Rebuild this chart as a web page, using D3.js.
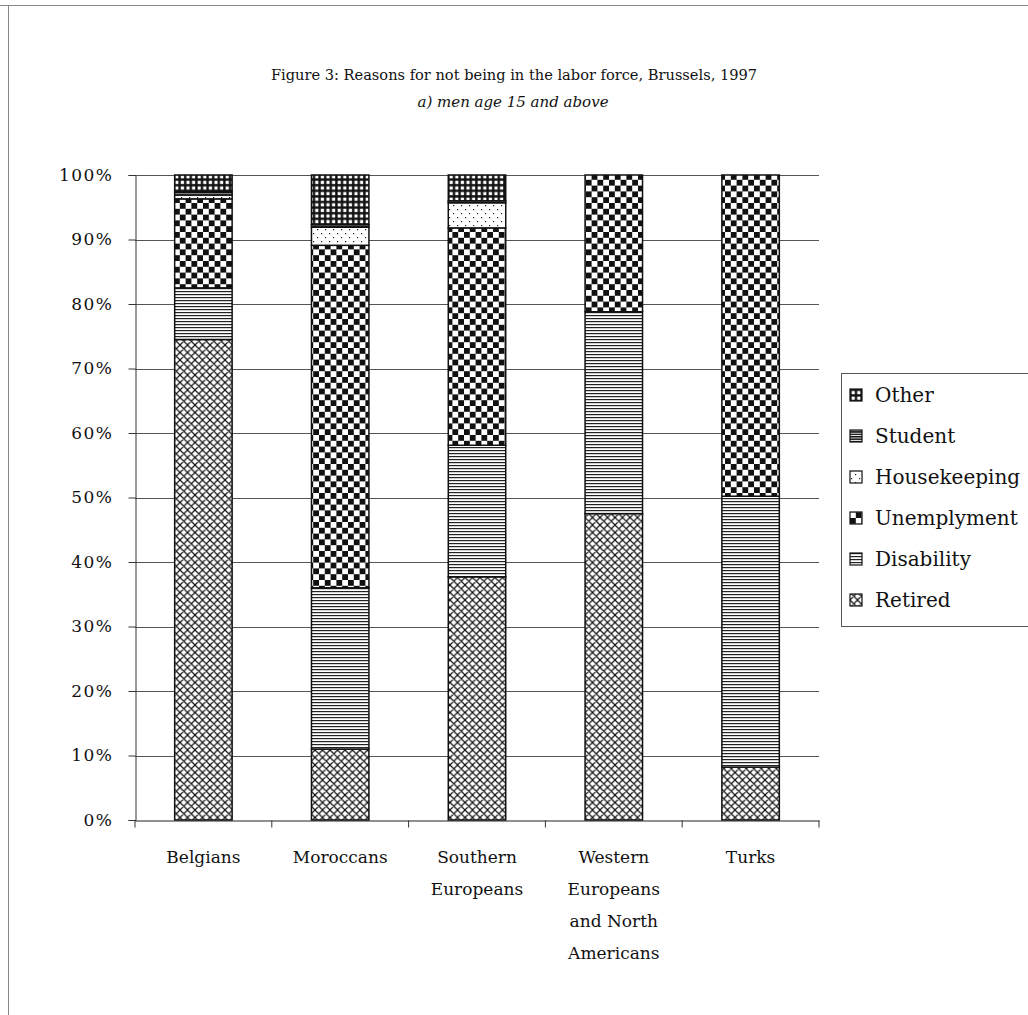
<!DOCTYPE html>
<html>
<head>
<meta charset="utf-8">
<script src="https://cdn.jsdelivr.net/npm/d3@7"></script>
<style>
  html, body { margin: 0; padding: 0; background: #fff; }
  svg { display: block; }
  text { font-family: "DejaVu Serif", serif; fill: #111; }
</style>
</head>
<body>
<svg id="chart" width="1028" height="1015"></svg>
<script>
// Population groups (x axis) and their wrapped label lines
const categories = ["Belgians", "Moroccans", "Southern Europeans",
  "Western Europeans and North Americans", "Turks"];
const categoryLines = [["Belgians"], ["Moroccans"], ["Southern", "Europeans"],
  ["Western", "Europeans", "and North", "Americans"], ["Turks"]];

// Reasons, stacked bottom to top (share of men not in labour force, %)
const reasons = ["Retired", "Disability", "Unemplyment", "Housekeeping", "Student", "Other"];
const retired      = [74.5, 11.0, 37.7, 47.5,  8.2];
const disability   = [ 8.0, 25.0, 20.4, 31.3, 42.0];
const unemployment = [13.8, 53.1, 33.7, 21.2, 49.8];
const housekeeping = [ 0.6,  2.8,  3.9,  0.0,  0.0];
const student      = [ 0.5,  0.4,  0.3,  0.0,  0.0];
const other        = [ 2.6,  7.7,  4.0,  0.0,  0.0];

const yTicks = [0, 10, 20, 30, 40, 50, 60, 70, 80, 90, 100];

const seriesValues = [retired, disability, unemployment, housekeeping, student, other];
const rows = categories.map((c, i) => {
  const r = { category: c };
  reasons.forEach((k, j) => r[k] = seriesValues[j][i]);
  return r;
});

const svg = d3.select("#chart");
const defs = svg.append("defs");

// ---- fill patterns for each reason ----
function pattern(id, w, h) {
  const p = defs.append("pattern").attr("id", id)
    .attr("patternUnits", "userSpaceOnUse").attr("width", w).attr("height", h);
  p.append("rect").attr("width", w).attr("height", h).attr("fill", "#fff");
  return p;
}
// Retired: diagonal cross-hatch
{
  const s = 7.5, p = pattern("p-Retired", s, s);
  p.append("path")
    .attr("d", `M0,0L${s},${s}M${-1},${s - 1}L1,${s + 1}M${s - 1},-1L${s + 1},1` +
               `M0,${s}L${s},0M-1,1L1,-1M${s - 1},${s + 1}L${s + 1},${s - 1}`)
    .attr("stroke", "#111").attr("stroke-width", 1.2);
}
// Disability: fine horizontal lines
{
  const p = pattern("p-Disability", 4, 3);
  p.append("rect").attr("y", 0).attr("width", 4).attr("height", 1.2).attr("fill", "#222");
}
// Unemployment: checkerboard
{
  const c = 5.8, p = pattern("p-Unemplyment", 2 * c, 2 * c);
  p.append("rect").attr("width", c).attr("height", c).attr("fill", "#111");
  p.append("rect").attr("x", c).attr("y", c).attr("width", c).attr("height", c).attr("fill", "#111");
}
// Housekeeping: sparse dots
{
  const p = pattern("p-Housekeeping", 8, 8);
  p.append("rect").attr("x", 1).attr("y", 1).attr("width", 1.2).attr("height", 1.2).attr("fill", "#222");
  p.append("rect").attr("x", 5).attr("y", 5).attr("width", 1.2).attr("height", 1.2).attr("fill", "#222");
}
// Student: dense dark horizontal lines
{
  const p = pattern("p-Student", 4, 2.4);
  p.append("rect").attr("width", 4).attr("height", 1.5).attr("fill", "#111");
}
// Other: black grid with small white squares
{
  const c = 5.6, p = pattern("p-Other", c, c);
  p.select("rect").attr("fill", "#111");
  p.append("rect").attr("x", 1.6).attr("y", 1.6).attr("width", 3.2).attr("height", 3.2).attr("fill", "#fff");
}

// ---- page frame ----
svg.append("line").attr("x1", 0).attr("x2", 1028).attr("y1", 5.5).attr("y2", 5.5)
  .attr("stroke", "#888").attr("stroke-width", 1);
svg.append("line").attr("x1", 8.5).attr("x2", 8.5).attr("y1", 5).attr("y2", 1015)
  .attr("stroke", "#888").attr("stroke-width", 1);

// ---- titles ----
svg.append("text").attr("x", 514).attr("y", 80).attr("text-anchor", "middle")
  .style("font-size", "14.6px")
  .text("Figure 3: Reasons for not being in the labor force, Brussels, 1997");
svg.append("text").attr("x", 513).attr("y", 107).attr("text-anchor", "middle")
  .style("font-size", "15px").style("font-style", "italic")
  .text("a) men age 15 and above");

// ---- scales ----
const plot = { left: 135, right: 819, top: 175, bottom: 820 };
const x = d3.scaleBand().domain(categories).range([plot.left, plot.right])
  .paddingInner(0.58).paddingOuter(0.29);
const y = d3.scaleLinear().domain([0, 100]).range([plot.bottom, plot.top]);

// gridlines
svg.append("g").selectAll("line").data(yTicks.filter(d => d > 0)).join("line")
  .attr("x1", plot.left).attr("x2", plot.right)
  .attr("y1", d => Math.round(y(d)) + 0.5).attr("y2", d => Math.round(y(d)) + 0.5)
  .attr("stroke", "#555").attr("stroke-width", 1);

// ---- stacked bars ----
const stack = d3.stack().keys(reasons)(rows);
const layers = svg.append("g").selectAll("g").data(stack).join("g")
  .attr("fill", d => `url(#p-${d.key})`);
layers.selectAll("rect").data(d => d.filter(s => s[1] - s[0] > 0)).join("rect")
  .attr("x", d => x(d.data.category))
  .attr("width", x.bandwidth())
  .attr("y", d => y(d[1]))
  .attr("height", d => y(d[0]) - y(d[1]))
  .attr("stroke", "#111").attr("stroke-width", 1.5);

// ---- y axis ----
const yAxis = svg.append("g").attr("transform", `translate(${plot.left + 0.5},0)`)
  .call(d3.axisLeft(y).tickValues(yTicks).tickFormat(d => d + "%").tickSize(7).tickPadding(15));
yAxis.select(".domain").attr("stroke", "#333");
yAxis.selectAll(".tick line").attr("stroke", "#333");
yAxis.selectAll(".tick text").style("font-size", "17px").style("letter-spacing", "1.5px")
  .attr("font-family", null);

// ---- x axis ----
const xAxis = svg.append("g").attr("transform", `translate(0,${plot.bottom + 0.5})`)
  .call(d3.axisBottom(x).tickSize(0).tickFormat(""));
xAxis.select(".domain").attr("stroke", "#222").attr("stroke-width", 1.2);
const step = x.step();
const boundaries = d3.range(categories.length + 1).map(i => plot.left + i * step);
xAxis.append("g").selectAll("line").data(boundaries).join("line")
  .attr("x1", d => d).attr("x2", d => d).attr("y1", 0).attr("y2", 7)
  .attr("stroke", "#333");

const labels = svg.append("g").selectAll("text").data(categories).join("text")
  .attr("x", d => x(d) + x.bandwidth() / 2)
  .attr("y", 863)
  .attr("text-anchor", "middle")
  .style("font-size", "17px");
labels.each(function (d, i) {
  d3.select(this).selectAll("tspan").data(categoryLines[i]).join("tspan")
    .attr("x", x(d) + x.bandwidth() / 2)
    .attr("dy", (t, j) => j === 0 ? 0 : 32)
    .text(t => t);
});

// ---- legend ----
const legend = svg.append("g");
legend.append("rect").attr("x", 841.5).attr("y", 373.5).attr("width", 220).attr("height", 253)
  .attr("fill", "#fff").attr("stroke", "#555");
const legendOrder = reasons.slice().reverse();
const li = legend.selectAll("g.item").data(legendOrder).join("g").attr("class", "item")
  .attr("transform", (d, i) => `translate(850,${395 + i * 41})`);
li.append("rect").attr("x", 0).attr("y", -6).attr("width", 12).attr("height", 12)
  .attr("fill", d => `url(#p-${d})`).attr("stroke", "#111").attr("stroke-width", 1.2);
li.append("text").attr("x", 25).attr("y", 7).style("font-size", "20px").text(d => d);
</script>
</body>
</html>
